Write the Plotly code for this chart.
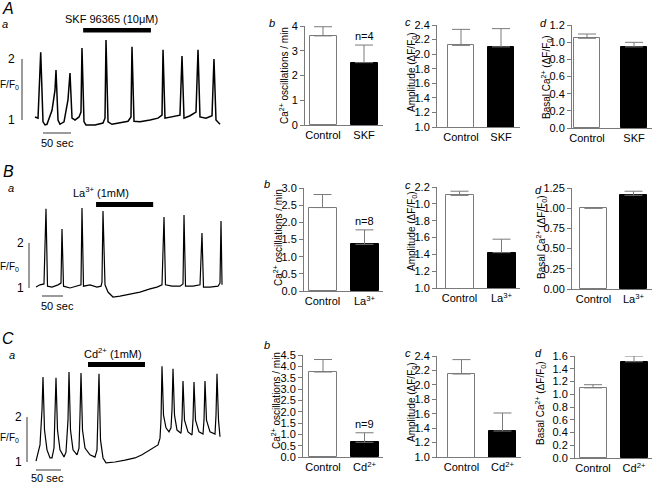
import plotly.graph_objects as go

# ------------------------------------------------------------------ data
# Calcium traces (time in s, fluorescence F/F0)
A_trace_t = [0, 5.4, 10.2, 14.3, 17.9, 21.4, 30.4, 35.7, 37.5, 41.1, 44.6, 51.8, 58.9, 62.5, 66.1, 71.4,
             78.6, 82.1, 83.9, 87.5, 91.1, 107.1, 121.4, 125.0, 126.8, 130.4, 137.5, 151.8, 166.1, 171.4,
             173.2, 176.8, 187.5, 205.4, 219.6, 226.8, 228.6, 232.1, 244.6, 258.9, 262.5, 266.1, 276.8,
             287.5, 291.1, 294.6, 305.4, 316.1, 319.6, 323.2, 330.4]
A_trace_f = [1.05, 1.03, 2.11, 0.97, 0.92, 0.93, 1.16, 1.49, 1.82, 1.00, 0.93, 0.97, 1.33, 1.77, 1.03, 1.00,
             1.05, 1.13, 2.18, 0.97, 0.92, 0.92, 0.95, 1.03, 2.31, 0.97, 0.93, 0.95, 0.98, 1.05,
             2.20, 0.98, 0.97, 1.00, 1.03, 1.08, 2.15, 1.03, 1.05, 1.08, 2.05, 1.03, 1.07,
             1.13, 2.15, 1.05, 1.03, 1.07, 2.00, 1.00, 0.93]

B_trace_t = [0, 9.5, 19, 23.8, 27.4, 38.1, 52.4, 59.5, 61.9, 65.5, 81, 100, 107.1, 109.5, 113.1, 128.6,
             145.2, 154.8, 157.1, 159.5, 164.3, 171.4, 183.3, 200, 223.8, 247.6, 271.4, 288.1, 300,
             304.8, 308.3, 323.8, 342.9, 350, 352.4, 356, 373.8, 390.5, 395.2, 398.8, 414.3, 433.3,
             438.1, 440.5, 442.9]
B_trace_f = [1.02, 1.07, 1.09, 2.76, 1.04, 1.02, 1.07, 1.11, 2.31, 1.04, 1.00, 1.04, 1.07, 2.78, 1.04, 1.07,
             1.02, 1.04, 1.13, 2.71, 1.07, 0.91, 0.80, 0.82, 0.87, 0.91, 0.98, 1.02, 1.07,
             2.58, 1.07, 1.04, 1.04, 1.09, 2.62, 1.04, 1.04, 1.07, 2.22, 1.02, 1.02, 1.04,
             1.11, 2.49, 1.07]

C_trace_t = [0, 8, 12, 14, 17, 22, 28, 32, 36, 38, 40, 43, 48, 56, 60, 64, 66, 69, 74, 82, 86, 88, 90, 93,
             98, 108, 118, 122, 124, 126, 129, 134, 140, 158, 178, 198, 212, 228, 238, 244, 248, 250,
             252, 255, 260, 266, 270, 272, 274, 277, 282, 290, 292, 294, 297, 304, 312, 314, 316, 319,
             326, 334, 336, 338, 341, 348, 358, 360, 362, 365, 368]
C_trace_f = [1.02, 1.38, 2.16, 2.89, 1.71, 1.27, 1.09, 1.09, 1.31, 2.04, 2.87, 1.71, 1.27, 1.11, 1.22, 1.93,
             3.00, 1.71, 1.27, 1.16, 1.31, 2.04, 2.98, 1.71, 1.31, 1.16, 1.11, 1.27, 1.93, 2.96, 1.49,
             1.09, 0.98, 1.00, 1.04, 1.09, 1.16, 1.27, 1.33, 1.38, 1.53, 1.93, 3.13, 2.04, 1.76, 1.67,
             1.76, 2.16, 3.07, 2.04, 1.71, 1.64, 1.93, 2.80, 1.93, 1.67, 1.60, 1.93, 2.78, 1.93, 1.67,
             1.62, 1.93, 2.80, 1.93, 1.67, 1.62, 2.04, 2.96, 1.93, 1.56]

# drug application windows (s)
A_drug = [86, 207]
B_drug = [143, 279]
C_drug = [104, 218]
A_drug_label = "SKF 96365 (10\u03bcM)"
B_drug_label = "La<sup>3+</sup> (1mM)"
C_drug_label = "Cd<sup>2+</sup> (1mM)"

SCALE_SEC = 50          # horizontal scale bar (s)
SCALE_F = [1, 2]        # vertical scale bar (F/F0)

# Summary bar data
A_categories = ["Control", "SKF"]
B_categories = ["Control", "La<sup>3+</sup>"]
C_categories = ["Control", "Cd<sup>2+</sup>"]

A_rate, A_rate_err = [3.60, 2.52], [0.37, 0.71]
A_amp, A_amp_err = [2.12, 2.10], [0.22, 0.25]
A_basal, A_basal_err = [1.045, 0.945], [0.05, 0.053]
A_n = "n=4"

B_rate, B_rate_err = [2.43, 1.36], [0.38, 0.42]
B_amp, B_amp_err = [2.10, 1.42], [0.05, 0.16]
B_basal, B_basal_err = [1.00, 1.16], [0.0, 0.05]
B_n = "n=8"

C_rate, C_rate_err = [3.75, 0.65], [0.55, 0.42]
C_amp, C_amp_err = [2.15, 1.36], [0.20, 0.25]
C_basal, C_basal_err = [1.10, 1.51], [0.05, 0.09]
C_n = "n=9"

# tick values / labels
A_rate_ticks = [0, 1, 2, 3, 4]
A_rate_labels = ["0", "1", "2", "3", "4"]
amp_ticks_24 = [1.0, 1.2, 1.4, 1.6, 1.8, 2.0, 2.2, 2.4]
amp_labels_24 = ["1.0", "1.2", "1.4", "1.6", "1.8", "2.0", "2.2", "2.4"]
A_basal_ticks = [0, 0.2, 0.4, 0.6, 0.8, 1.0, 1.2]
A_basal_labels = ["0.0", "0.2", "0.4", "0.6", "0.8", "1.0", "1.2"]
B_rate_ticks = [0, 0.5, 1.0, 1.5, 2.0, 2.5, 3.0]
B_rate_labels = ["0.0", "0.5", "1.0", "1.5", "2.0", "2.5", "3.0"]
B_amp_ticks = [1.0, 1.2, 1.4, 1.6, 1.8, 2.0, 2.2]
B_amp_labels = ["1.0", "1.2", "1.4", "1.6", "1.8", "1.0", "2.2"]
B_basal_ticks = [0, 0.25, 0.5, 0.75, 1.0, 1.25]
B_basal_labels = ["0.00", "0.25", "0.50", "0.75", "1.00", "1.25"]
C_rate_ticks = [0, 0.5, 1.0, 1.5, 2.0, 2.5, 3.0, 3.5, 4.0, 4.5]
C_rate_labels = ["0.0", "0.5", "1.0", "1.5", "2.0", "2.5", "3.0", "3.5", "4.0", "4.5"]
C_basal_ticks = [0, 0.2, 0.4, 0.6, 0.8, 1.0, 1.2, 1.4, 1.6]
C_basal_labels = ["0.0", "0.2", "0.4", "0.6", "0.8", "1.0", "1.2", "1.4", "1.6"]

RATE_TITLE = "Ca<sup>2+</sup> oscillations / min"
AMP_TITLE = "Amplitude (\u0394F/F<sub>0</sub>)"
BASAL_TITLE = "Basal Ca<sup>2+</sup> (\u0394F/F<sub>0</sub>)"

# ------------------------------------------------------------------ layout helpers
W, H = 654, 485
FONT = "Liberation Sans, Arial, sans-serif"
GRAY = "#7a7a7a"


def px_x(p):
    return p / W


def px_y(p):
    return 1 - p / H


fig = go.Figure()
layout = {}
annotations = []
shapes = []


def names(k):
    s = "" if k == 1 else str(k)
    return "xaxis" + s, "yaxis" + s, "x" + s, "y" + s


def text(t, x, y, size=11, xanchor="center", yanchor="middle", xref="paper", yref="paper", angle=0, **kw):
    annotations.append(dict(text=t, x=x, y=y, xref=xref, yref=yref, xanchor=xanchor, yanchor=yanchor,
                            showarrow=False, textangle=angle, font=dict(size=size, color="black", family=FONT), **kw))


def trace_panel(k, t, f, cal, dom, drug, label, label_xy, bar_y, vbar_x, num_right, ff_right, ff_v,
                hbar_px, hbar_y, sec_xy, lw=1.2):
    xo, spx, yref, ppu = cal
    L, R, T, B = dom
    xa, ya, xr, yr = names(k)
    layout[xa] = dict(domain=[px_x(L), px_x(R)], range=[(L - xo) * spx, (R - xo) * spx], visible=False,
                      anchor=yr, fixedrange=True)
    layout[ya] = dict(domain=[px_y(B), px_y(T)], range=[1 + (yref - B) / ppu, 1 + (yref - T) / ppu],
                      visible=False, anchor=xr, fixedrange=True)
    fig.add_trace(go.Scatter(x=t, y=f, mode="lines", line=dict(color="black", width=lw),
                             xaxis=xr, yaxis=yr, hoverinfo="skip", showlegend=False))
    shapes.append(dict(type="rect", xref=xr, yref="paper", x0=drug[0], x1=drug[1],
                       y0=px_y(bar_y[1]), y1=px_y(bar_y[0]), fillcolor="black", line_width=0))
    text(label, px_x(label_xy[0]), px_y(label_xy[1]), size=11)
    # vertical scale bar
    shapes.append(dict(type="line", xref="paper", yref=yr, x0=px_x(vbar_x), x1=px_x(vbar_x),
                       y0=SCALE_F[0], y1=SCALE_F[1], line=dict(color=GRAY, width=1.5)))
    text(str(SCALE_F[1]), px_x(num_right), SCALE_F[1], size=12, xanchor="right", yref=yr)
    text(str(SCALE_F[0]), px_x(num_right), SCALE_F[0], size=12, xanchor="right", yref=yr)
    text("F/F<sub>0</sub>", px_x(ff_right), ff_v, size=10, xanchor="right", yref=yr)
    # horizontal scale bar
    x0 = (hbar_px - xo) * spx
    shapes.append(dict(type="line", xref=xr, yref="paper", x0=x0, x1=x0 + SCALE_SEC,
                       y0=px_y(hbar_y), y1=px_y(hbar_y), line=dict(color=GRAY, width=1.5)))
    text(f"{SCALE_SEC} sec", px_x(sec_xy[0]), px_y(sec_xy[1]), size=11)


def bar_panel(k, cats, vals, errs, ticks, ticklabels, geom, ylim, letter, letter_xy, title, title_xy, ntext=None):
    ax, right, top, bottom, c0, c1, bw = geom
    u = c1 - c0
    xa, ya, xr, yr = names(k)
    layout[xa] = dict(domain=[px_x(ax), px_x(right)], range=[-(c0 - ax) / u, 1 + (right - c1) / u],
                      type="category", showline=True, linecolor=GRAY, linewidth=1, ticks="",
                      showgrid=False, zeroline=False, anchor=yr, fixedrange=True, automargin=False,
                      tickfont=dict(size=11, color="black", family=FONT))
    layout[ya] = dict(domain=[px_y(bottom), px_y(top)], range=ylim, showline=True, linecolor=GRAY,
                      linewidth=1, ticks="outside", ticklen=4, tickcolor=GRAY, tickvals=ticks,
                      ticktext=ticklabels, showgrid=False, zeroline=False, anchor=xr, fixedrange=True,
                      automargin=False, tickfont=dict(size=11, color="black", family=FONT))
    fig.add_trace(go.Bar(x=cats, y=vals, width=[bw / u] * 2,
                         marker=dict(color=["white", "black"], line=dict(color=[GRAY, "black"], width=1)),
                         error_y=dict(type="data", symmetric=False, array=errs, arrayminus=[0, 0],
                                      color=GRAY, thickness=1, width=9, visible=True),
                         xaxis=xr, yaxis=yr, showlegend=False, hoverinfo="skip"))
    text(f"<i>{letter}</i>", px_x(letter_xy[0]), px_y(letter_xy[1]), size=11)
    text(title, px_x(title_xy[0]), px_y(title_xy[1]), size=10, angle=-90)
    if ntext:
        text(ntext, cats[1], vals[1] + errs[1], size=11, xref=xr, yref=yr, yanchor="bottom", yshift=1)


# ------------------------------------------------------------------ row A
trace_panel(1, A_trace_t, A_trace_f, (35, 50 / 28, 120, 61), (0, 228, 2, 152), A_drug, A_drug_label,
            (111, 19), (28, 32.5), 22, 17, 21, 1.57, 43, 133, (57, 143), lw=1.5)
bar_panel(2, A_categories, A_rate, A_rate_err, A_rate_ticks, A_rate_labels,
          (305, 383, 26, 125, 323, 364, 27), [0, 4], "b", (272, 23), RATE_TITLE, (284, 76), A_n)
bar_panel(3, A_categories, A_amp, A_amp_err, amp_ticks_24, amp_labels_24,
          (437, 520, 25, 127, 461, 501, 26), [1.0, 2.4], "c", (408, 22), AMP_TITLE, (412, 72))
bar_panel(4, A_categories, A_basal, A_basal_err, A_basal_ticks, A_basal_labels,
          (572, 652, 25, 128, 587, 634, 26), [0, 1.2], "d", (543, 23), BASAL_TITLE, (546, 77))

# ------------------------------------------------------------------ row B
trace_panel(5, B_trace_t, B_trace_f, (36, 50 / 21, 288, 45), (0, 228, 165, 310), B_drug, B_drug_label,
            (101, 192), (202, 207), 29, 26, 21, 1.47, 42, 296, (57, 306))
bar_panel(6, B_categories, B_rate, B_rate_err, B_rate_ticks, B_rate_labels,
          (304, 383, 188, 291, 322.5, 364.5, 28), [0, 3.0], "b", (267, 184), RATE_TITLE, (278, 238), B_n)
bar_panel(7, B_categories, B_amp, B_amp_err, B_amp_ticks, B_amp_labels,
          (437, 520, 187, 288, 459.5, 501.5, 28), [1.0, 2.2], "c", (408, 185), AMP_TITLE, (412, 231))
bar_panel(8, B_categories, B_basal, B_basal_err, B_basal_ticks, B_basal_labels,
          (572, 652, 188, 289, 593.5, 633.5, 27), [0, 1.25], "d", (538, 190), BASAL_TITLE, (541, 237))

# ------------------------------------------------------------------ row C
trace_panel(9, C_trace_t, C_trace_f, (36, 2.0, 462, 45), (0, 228, 330, 485), C_drug, C_drug_label,
            (113, 353), (362, 367), 27, 24, 21, 1.53, 36, 470, (47, 478))
bar_panel(10, C_categories, C_rate, C_rate_err, C_rate_ticks, C_rate_labels,
          (303, 383, 355, 457, 323, 364.5, 28), [0, 4.5], "b", (267, 345), RATE_TITLE, (276, 401), C_n)
bar_panel(11, C_categories, C_amp, C_amp_err, amp_ticks_24, amp_labels_24,
          (437, 521, 356, 457, 461.5, 502.5, 27), [1.0, 2.4], "c", (408, 353), AMP_TITLE, (412, 402))
bar_panel(12, C_categories, C_basal, C_basal_err, C_basal_ticks, C_basal_labels,
          (575, 652, 356, 458, 593, 634, 27), [0, 1.6], "d", (538, 353), BASAL_TITLE, (540, 403))

# row letters
for letter, (lx, ly) in {"A": (8, 8), "B": (8, 171), "C": (8, 338)}.items():
    text(f"<i>{letter}</i>", px_x(lx), px_y(ly), size=16)
for (lx, ly) in [(5, 24), (11, 188), (12, 355)]:
    text("<i>a</i>", px_x(lx), px_y(ly), size=11)

fig.update_layout(width=W, height=H, margin=dict(l=0, r=0, t=0, b=0, autoexpand=False), paper_bgcolor="white",
                  plot_bgcolor="rgba(0,0,0,0)", showlegend=False, bargap=0,
                  font=dict(family=FONT, color="black"), annotations=annotations, shapes=shapes, **layout)

fig.write_html("out.html", config={"displayModeBar": False},
               post_script="document.body.style.margin='0';document.body.style.overflow='hidden';")
